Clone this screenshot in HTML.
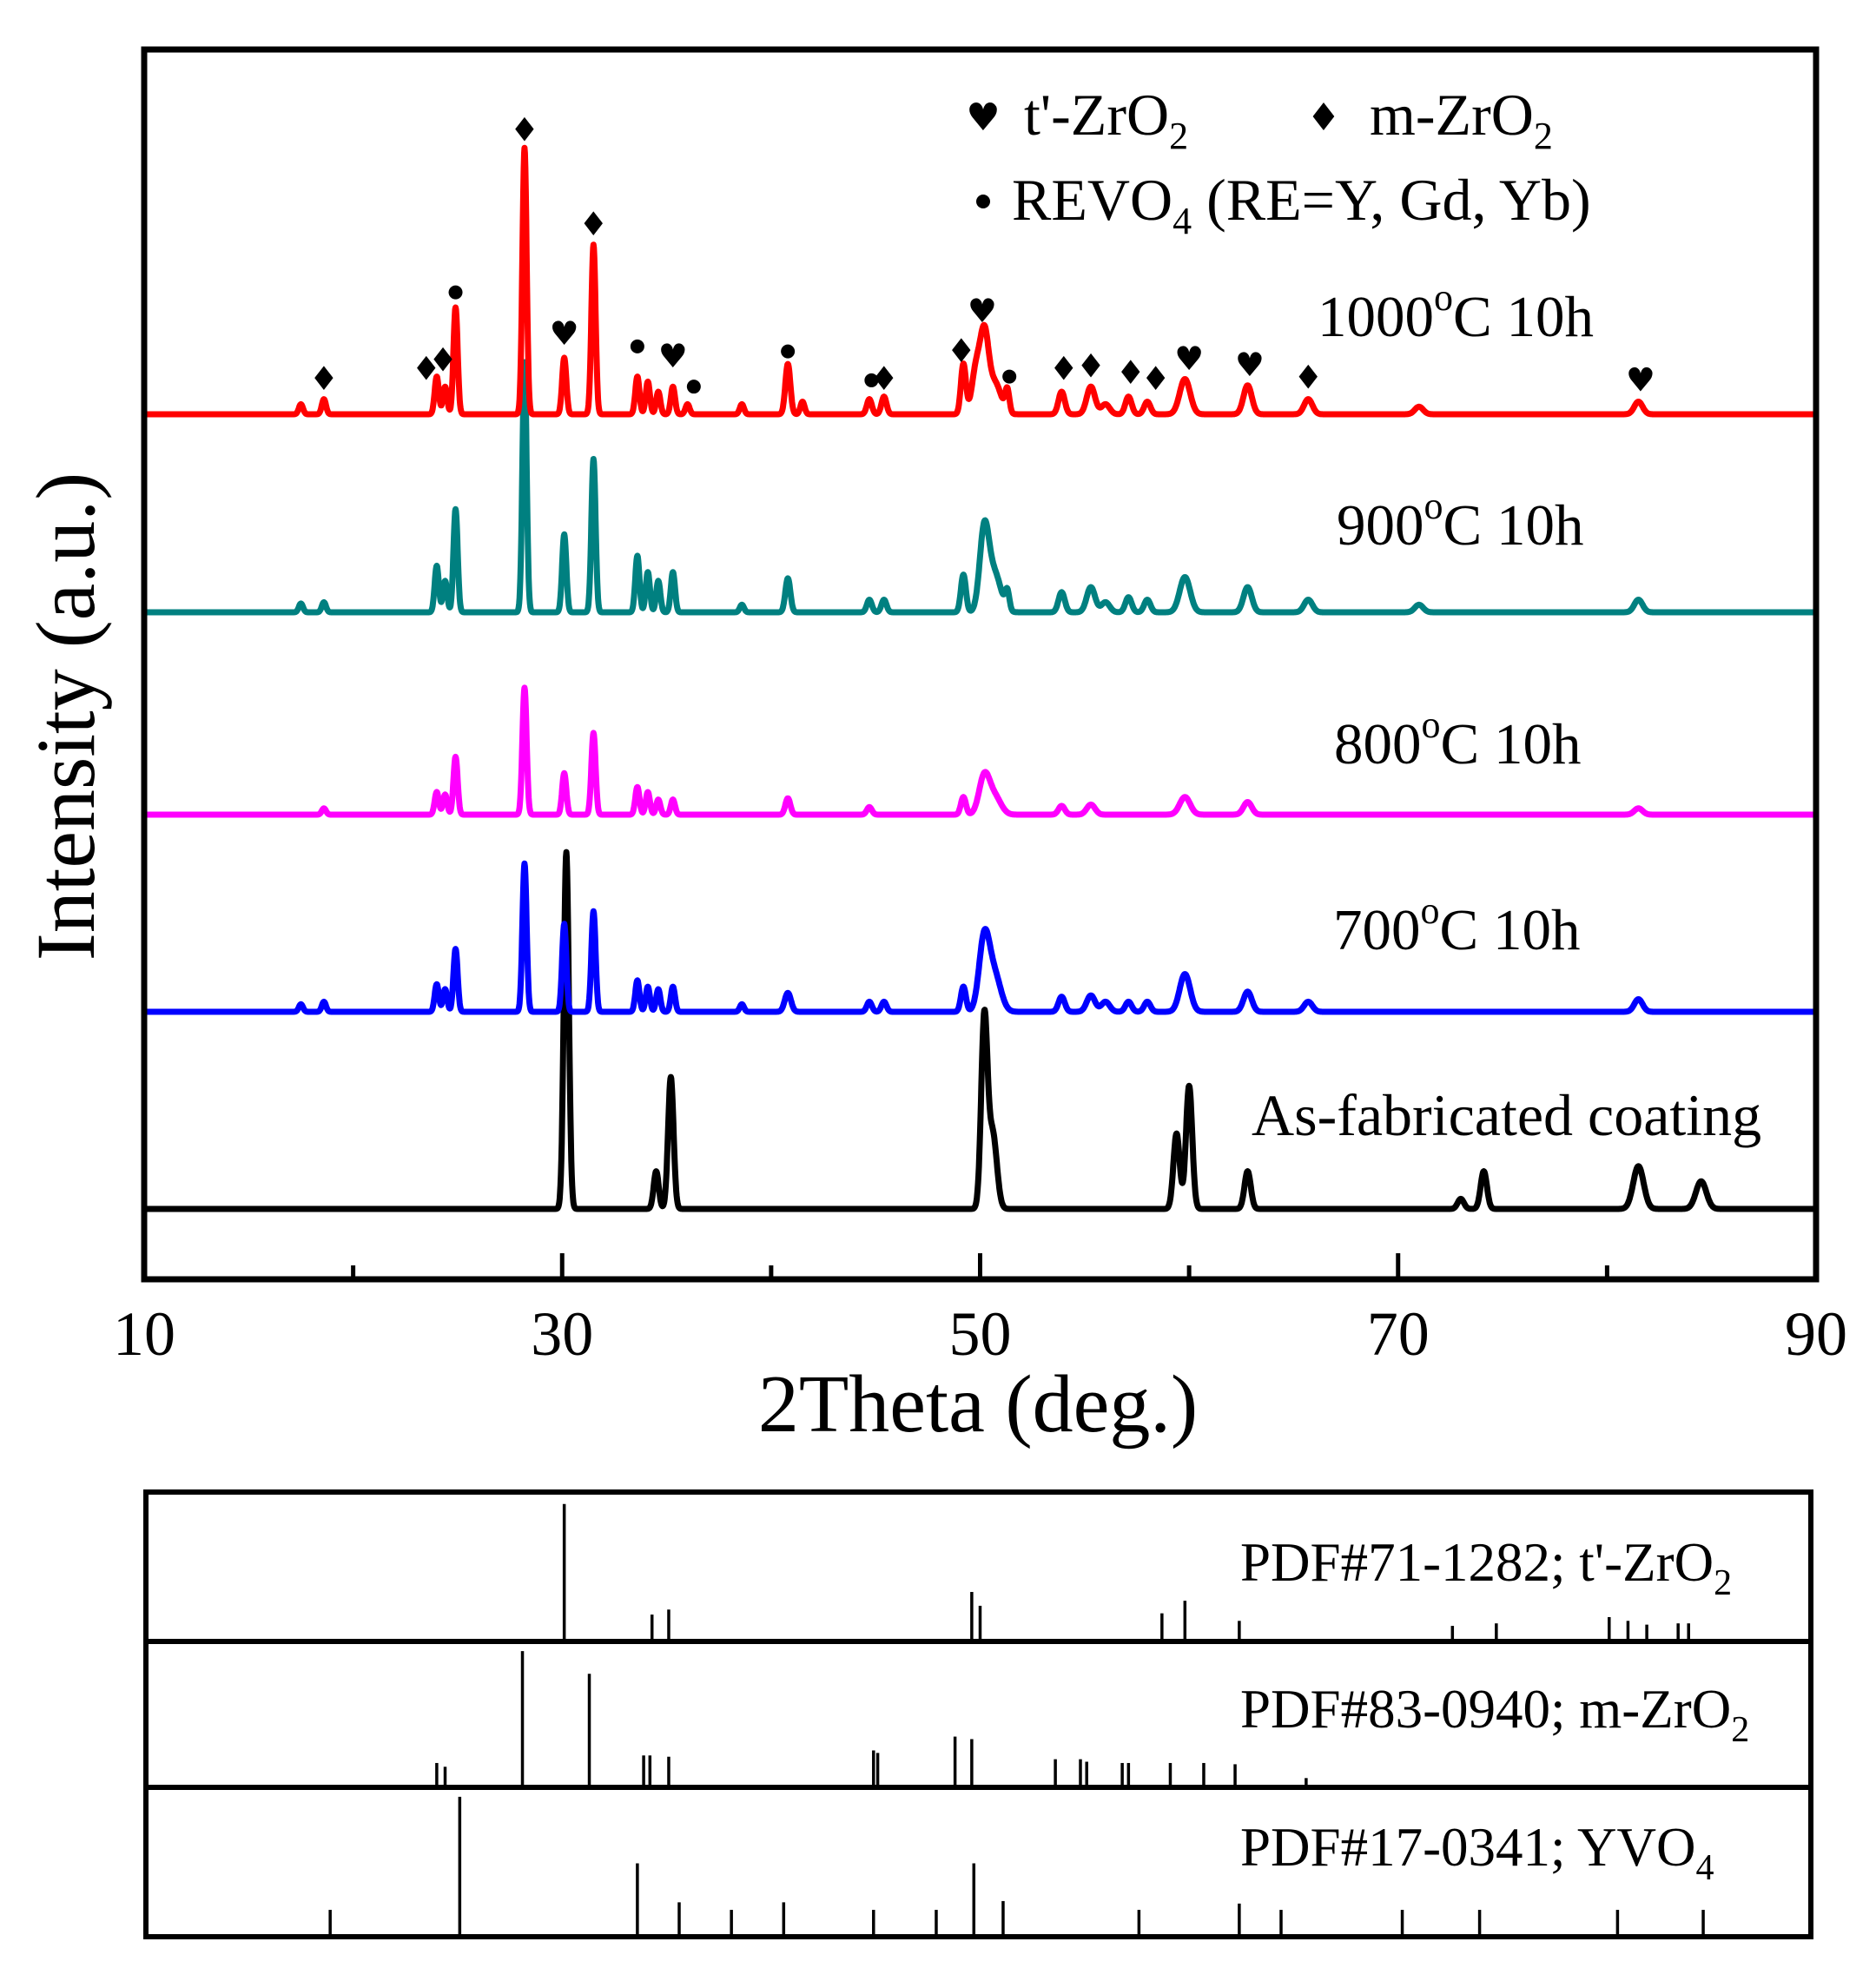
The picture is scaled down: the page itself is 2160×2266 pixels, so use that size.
<!DOCTYPE html>
<html><head><meta charset="utf-8"><style>
html,body{margin:0;padding:0;background:#fff;}
svg{display:block;font-family:"Liberation Serif",serif;}
</style></head><body>
<svg id="chart" width="2160" height="2266" viewBox="0 0 2160 2266" xmlns="http://www.w3.org/2000/svg">
<rect x="0" y="0" width="2160" height="2266" fill="#fff"/>
<g id="curves"></g>
<g id="markers"></g>
<rect x="166" y="57" width="1925" height="1416" fill="none" stroke="#000" stroke-width="7"/>
<g id="ticks"></g>
<g id="ticklabels" font-size="72" text-anchor="middle"></g>
<text x="1126" y="1648" font-size="94" text-anchor="middle">2Theta (deg.)</text>
<text transform="translate(108,825) rotate(-90)" font-size="96" text-anchor="middle">Intensity (a.u.)</text>
<g font-size="68">
<text x="1132" y="150" font-size="44" text-anchor="middle" font-family="DejaVu Sans">♥</text>
<text x="1179" y="155">t'-ZrO<tspan font-size="44" dy="16">2</tspan></text>
<text x="1524" y="150" font-size="44" text-anchor="middle" font-family="DejaVu Sans">♦</text>
<text x="1577" y="155">m-ZrO<tspan font-size="44" dy="16">2</tspan></text>
<circle cx="1132" cy="232" r="8" fill="#000"/>
<text x="1165" y="253">REVO<tspan font-size="44" dy="16">4</tspan><tspan dy="-16">  (RE=Y, Gd, Yb)</tspan></text>
</g>
<g font-size="67">
<text x="1517" y="387">1000<tspan font-size="44" dy="-30">o</tspan><tspan dy="30">C 10h</tspan></text>
<text x="1539" y="627">900<tspan font-size="44" dy="-30">o</tspan><tspan dy="30">C 10h</tspan></text>
<text x="1536" y="879">800<tspan font-size="44" dy="-30">o</tspan><tspan dy="30">C 10h</tspan></text>
<text x="1535" y="1093">700<tspan font-size="44" dy="-30">o</tspan><tspan dy="30">C 10h</tspan></text>
<text x="1441" y="1307" font-size="68">As-fabricated coating</text>
</g>
<g id="refpanel"></g>
<rect x="168" y="1718" width="1917" height="512" fill="none" stroke="#000" stroke-width="6"/>
<line x1="168" x2="2085" y1="1890" y2="1890" stroke="#000" stroke-width="6"/>
<line x1="168" x2="2085" y1="2058" y2="2058" stroke="#000" stroke-width="6"/>
<g font-size="63">
<text x="1428" y="1820">PDF#71-1282; t'-ZrO<tspan font-size="42" dy="16">2</tspan></text>
<text x="1428" y="1989">PDF#83-0940; m-ZrO<tspan font-size="42" dy="16">2</tspan></text>
<text x="1428" y="2148">PDF#17-0341; YVO<tspan font-size="42" dy="16">4</tspan></text>
</g>
</svg>
<script>
// ---- data (2theta in deg, intensity in a.u.) ----
const xTicks = [10, 20, 30, 40, 50, 60, 70, 80, 90];
const xTickLabels = ["10", "30", "50", "70", "90"];
const xLabelValues = [10, 30, 50, 70, 90];

const red1000Pos = [17.5, 18.6, 24.0, 24.4, 24.9, 28.2, 30.1, 31.5, 33.6, 34.1, 34.6, 35.3, 36.0, 38.6, 40.8, 41.5, 44.7, 45.4, 49.2, 49.8, 50.2, 50.7, 51.3, 53.9, 55.3, 56.0, 57.1, 58.0, 59.8, 62.8, 65.7, 71.0, 81.5];
const red1000Int = [8, 12, 30, 22, 85, 212, 45, 135, 30, 26, 18, 22, 8, 8, 40, 10, 12, 14, 40, 35, 60, 25, 18, 18, 22, 8, 14, 10, 28, 23, 12, 6, 10];
const red1000Wid = [0.1, 0.1, 0.1, 0.1, 0.1, 0.1, 0.1, 0.1, 0.1, 0.1, 0.1, 0.1, 0.1, 0.1, 0.12, 0.1, 0.12, 0.12, 0.12, 0.2, 0.2, 0.3, 0.1, 0.15, 0.2, 0.2, 0.15, 0.15, 0.25, 0.2, 0.2, 0.2, 0.2];

const teal900Pos = [17.5, 18.6, 24.0, 24.4, 24.9, 28.2, 30.1, 31.5, 33.6, 34.1, 34.6, 35.3, 38.6, 40.8, 44.7, 45.4, 49.2, 50.2, 50.7, 51.3, 53.9, 55.3, 56.0, 57.1, 58.0, 59.8, 62.8, 65.7, 71.0, 81.5];
const teal900Int = [7, 8, 37, 25, 82, 199, 62, 122, 45, 32, 25, 32, 6, 27, 10, 10, 30, 65, 30, 15, 16, 20, 8, 12, 10, 28, 20, 10, 6, 10];
const teal900Wid = [0.1, 0.1, 0.1, 0.1, 0.1, 0.1, 0.1, 0.1, 0.1, 0.1, 0.1, 0.1, 0.1, 0.12, 0.12, 0.12, 0.12, 0.22, 0.3, 0.1, 0.15, 0.2, 0.2, 0.15, 0.15, 0.25, 0.2, 0.2, 0.2, 0.2];

const mag800Pos = [18.6, 24.0, 24.4, 24.9, 28.2, 30.1, 31.5, 33.6, 34.1, 34.6, 35.3, 40.8, 44.7, 49.2, 50.2, 50.7, 53.9, 55.3, 59.8, 62.8, 81.5];
const mag800Int = [5, 18, 16, 46, 101, 33, 65, 22, 18, 12, 12, 13, 6, 14, 30, 14, 7, 8, 14, 10, 5];
const mag800Wid = [0.1, 0.1, 0.1, 0.1, 0.1, 0.1, 0.1, 0.1, 0.1, 0.1, 0.1, 0.12, 0.12, 0.12, 0.25, 0.3, 0.15, 0.2, 0.25, 0.2, 0.2];

const blue700Pos = [17.5, 18.6, 24.0, 24.4, 24.9, 28.2, 30.1, 31.5, 33.6, 34.1, 34.6, 35.3, 38.6, 40.8, 44.7, 45.4, 49.2, 50.2, 50.7, 53.9, 55.3, 56.0, 57.1, 58.0, 59.8, 62.8, 65.7, 81.5];
const blue700Int = [6, 8, 22, 18, 50, 118, 70, 80, 25, 20, 18, 20, 6, 15, 8, 8, 20, 58, 28, 12, 13, 8, 8, 8, 30, 16, 8, 10];
const blue700Wid = [0.1, 0.1, 0.1, 0.1, 0.1, 0.1, 0.1, 0.1, 0.1, 0.1, 0.1, 0.1, 0.1, 0.15, 0.12, 0.12, 0.12, 0.25, 0.3, 0.15, 0.2, 0.2, 0.15, 0.15, 0.25, 0.2, 0.2, 0.2];

const blackAsPos = [30.2, 34.5, 35.2, 50.2, 50.6, 59.4, 60.0, 62.8, 73.0, 74.1, 81.5, 84.5];
const blackAsInt = [284, 30, 105, 150, 60, 60, 98, 30, 8, 30, 34, 22];
const blackAsWid = [0.12, 0.12, 0.13, 0.15, 0.2, 0.15, 0.15, 0.15, 0.15, 0.15, 0.25, 0.25];

// marker positions (deg), heights (a.u. above the 1000C baseline), types
const markerPos = [18.6, 23.5, 24.3, 24.9, 28.2, 30.1, 31.5, 33.6, 35.3, 36.3, 40.8, 44.8, 45.4, 49.1, 50.1, 51.4, 54.0, 55.3, 57.2, 58.4, 60.0, 62.9, 65.7, 81.6];
const markerHgt = [29, 37, 44, 97, 227, 65, 152, 54, 47, 22, 50, 27, 29, 51, 83, 30, 37, 39, 34, 29, 45, 40, 30, 28];
const markerType = ["m","m","m","r","m","t","m","r","t","r","r","r","m","m","t","r","m","m","m","m","t","t","m","t"];

// reference pattern stick positions and relative heights
const tPos = [30.1, 34.3, 35.1, 49.6, 50.0, 58.7, 59.8, 62.4, 72.6, 74.7, 80.1, 81.0, 81.9, 83.4, 83.9];
const tInt = [108, 20, 24, 38, 27, 21, 31, 15, 11, 13, 18, 15, 12, 13, 13];
const mPos = [24.0, 24.4, 28.1, 31.3, 33.9, 34.2, 35.1, 44.9, 45.1, 48.8, 49.6, 53.6, 54.8, 55.1, 56.8, 57.1, 59.1, 60.7, 62.2, 65.6];
const mInt = [18, 15, 107, 89, 24, 24, 23, 28, 26, 39, 37, 21, 21, 19, 18, 18, 18, 18, 17, 6];
const yPos = [18.9, 25.1, 33.6, 35.6, 38.1, 40.6, 44.9, 47.9, 49.7, 51.1, 57.6, 62.4, 64.4, 70.2, 73.9, 80.5, 84.6];
const yInt = [20, 110, 57, 26, 20, 26, 20, 20, 57, 27, 20, 25, 20, 20, 20, 20, 20];

// ---- scales ----
const NS = "http://www.w3.org/2000/svg";
const X0 = 166, X1 = 2091, D0 = 10, D1 = 90;
function xs(d){ return X0 + (d - D0) * (X1 - X0) / (D1 - D0); }
const K = 1.447;
function ys(v, base){ return base - v * K; }

function curvePath(pos, ints, wid, base){
  let d = "";
  for (let t = 10.1; t <= 89.9; t += 0.02){
    let v = 0;
    for (let i = 0; i < pos.length; i++){
      const z = (t - pos[i]) / wid[i];
      if (Math.abs(z) < 6) v += ints[i] * Math.exp(-0.5 * z * z);
    }
    d += (d ? "L" : "M") + xs(t).toFixed(1) + "," + ys(v, base).toFixed(1);
  }
  return d;
}
const curvesG = document.getElementById("curves");
function addCurve(name, pos, ints, wid, base, color){
  const p = document.createElementNS(NS, "path");
  p.setAttribute("d", curvePath(pos, ints, wid, base));
  p.setAttribute("fill", "none");
  p.setAttribute("stroke", color);
  p.setAttribute("stroke-width", "7");
  p.setAttribute("stroke-linejoin", "round");
  
  
  curvesG.appendChild(p);
}
addCurve("curve-as-fabricated", blackAsPos, blackAsInt, blackAsWid, 1392, "#000");
addCurve("curve-700c", blue700Pos, blue700Int, blue700Wid, 1165, "#0000ff");
addCurve("curve-800c", mag800Pos, mag800Int, mag800Wid, 938, "#ff00ff");
addCurve("curve-900c", teal900Pos, teal900Int, teal900Wid, 705, "#008080");
addCurve("curve-1000c", red1000Pos, red1000Int, red1000Wid, 477, "#ff0000");

// markers
const mg = document.getElementById("markers");
for (let i = 0; i < markerPos.length; i++){
  const x = xs(markerPos[i]), y = ys(markerHgt[i], 477);
  let el;
  if (markerType[i] === "r"){
    el = document.createElementNS(NS, "circle");
    el.setAttribute("cx", x); el.setAttribute("cy", y); el.setAttribute("r", 8);
    el.setAttribute("fill", "#000");
  } else {
    el = document.createElementNS(NS, "text");
    el.setAttribute("x", x); el.setAttribute("y", y + 14);
    el.setAttribute("text-anchor", "middle");
    el.setAttribute("font-size", "38");
    el.setAttribute("font-family", "DejaVu Sans");
    el.textContent = markerType[i] === "t" ? "♥" : "♦";
  }
  
  
  mg.appendChild(el);
}

// ticks
const tg = document.getElementById("ticks");
for (let i = 1; i < xTicks.length - 1; i++){
  const l = document.createElementNS(NS, "line");
  const major = (xTicks[i] - 10) % 20 === 0;
  const x = xs(xTicks[i]);
  l.setAttribute("x1", x); l.setAttribute("x2", x);
  l.setAttribute("y1", 1473); l.setAttribute("y2", 1473 - (major ? 30 : 16));
  l.setAttribute("stroke", "#000"); l.setAttribute("stroke-width", "5");
  
  
  tg.appendChild(l);
}
const tlg = document.getElementById("ticklabels");
for (let i = 0; i < xLabelValues.length; i++){
  const t = document.createElementNS(NS, "text");
  t.setAttribute("x", xs(xLabelValues[i])); t.setAttribute("y", 1560);
  t.textContent = xTickLabels[i];
  
  
  tlg.appendChild(t);
}

// reference sticks
const rg = document.getElementById("refpanel");
function sticks(name, pos, ints, base){
  for (let i = 0; i < pos.length; i++){
    const l = document.createElementNS(NS, "line");
    const x = xs(pos[i]);
    l.setAttribute("x1", x); l.setAttribute("x2", x);
    l.setAttribute("y1", base); l.setAttribute("y2", ys(ints[i], base));
    l.setAttribute("stroke", "#000"); l.setAttribute("stroke-width", "3.5");
    
    
    rg.appendChild(l);
  }
}
sticks("t-zro2-reference-line", tPos, tInt, 1888);
sticks("m-zro2-reference-line", mPos, mInt, 2056);
sticks("yvo4-reference-line", yPos, yInt, 2228);
</script>
</body></html>
